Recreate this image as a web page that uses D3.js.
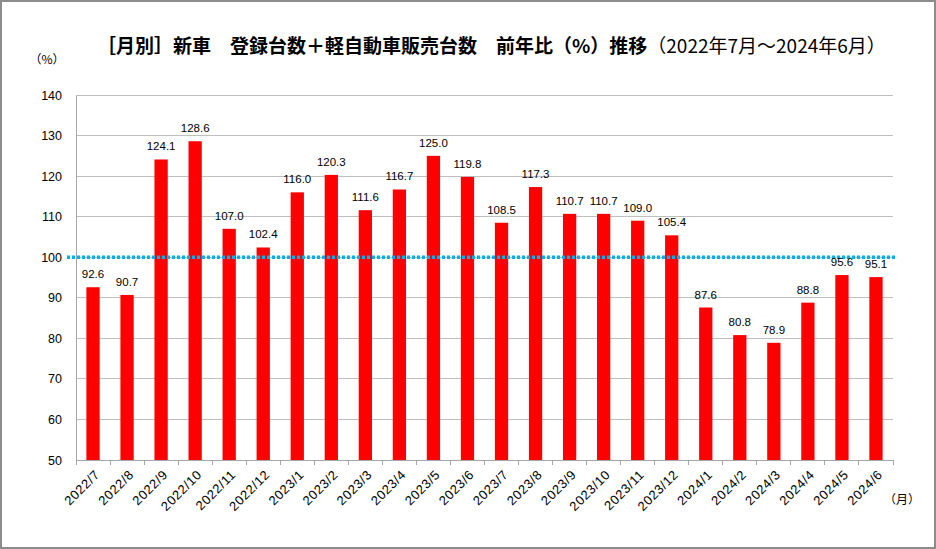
<!DOCTYPE html>
<html><head><meta charset="utf-8">
<script src="https://cdn.jsdelivr.net/npm/d3@7/dist/d3.min.js"></script>
<style>
html,body{margin:0;padding:0;background:#fff;}
svg{display:block;}
</style></head>
<body>
<svg id="c" width="936" height="549"></svg>
<script>
const categories = ["2022/7","2022/8","2022/9","2022/10","2022/11","2022/12","2023/1","2023/2","2023/3","2023/4","2023/5","2023/6","2023/7","2023/8","2023/9","2023/10","2023/11","2023/12","2024/1","2024/2","2024/3","2024/4","2024/5","2024/6"];
const values = [92.6,90.7,124.1,128.6,107.0,102.4,116.0,120.3,111.6,116.7,125.0,119.8,108.5,117.3,110.7,110.7,109.0,105.4,87.6,80.8,78.9,88.8,95.6,95.1];
const yTicks = [50,60,70,80,90,100,110,120,130,140];
const refValue = 100;
const title = "［月別］新車　登録台数＋軽自動車販売台数　前年比（%）推移";
const titleSub = "（2022年7月～2024年6月）";

const svg = d3.select("#c");
const W = 936, H = 549;
const m = {left:76, right:893, top:95, bottom:460};
const font = "'Liberation Sans', Arial, sans-serif";
const cjk = "'Noto Sans CJK JP', sans-serif";

svg.append("rect").attr("x",1).attr("y",1).attr("width",W-2).attr("height",H-2)
  .attr("fill","#fff").attr("stroke","#8c8c8c").attr("stroke-width",2);

const x = d3.scaleBand().domain(categories).range([m.left,m.right]).paddingInner(0.61).paddingOuter(0.305);
const xb = d3.scaleBand().domain(categories).range([m.left,m.right]);
const y = d3.scaleLinear().domain([50,140]).range([m.bottom,m.top]);

// gridlines
svg.append("g").selectAll("line").data(yTicks.filter(t=>t>50)).join("line")
  .attr("x1",m.left).attr("x2",m.right).attr("y1",d=>y(d)).attr("y2",d=>y(d))
  .attr("stroke","#bfbfbf").attr("stroke-width",1).attr("shape-rendering","crispEdges");

// y axis
const ya = svg.append("g").attr("transform",`translate(${m.left},0)`)
  .call(d3.axisLeft(y).tickValues(yTicks).tickSize(0).tickPadding(14));
ya.select(".domain").attr("stroke","#a6a6a6").attr("shape-rendering","crispEdges");
ya.selectAll("text").attr("font-family",font).attr("font-size",12.5).attr("fill","#000");

// bars
svg.append("g").selectAll("rect").data(values).join("rect")
  .attr("x",(d,i)=>x(categories[i])).attr("width",x.bandwidth())
  .attr("y",d=>y(d)).attr("height",d=>y(50)-y(d)).attr("fill","#ff0000");

// x axis
const xa = svg.append("g").attr("transform",`translate(0,${m.bottom})`)
  .call(d3.axisBottom(xb).tickSize(0).tickFormat(""));
xa.select(".domain").attr("stroke","#a6a6a6").attr("shape-rendering","crispEdges");
const bounds = categories.map((c)=>xb(c)).concat([m.right]);
svg.append("g").selectAll("line").data(bounds).join("line")
  .attr("x1",d=>d).attr("x2",d=>d).attr("y1",m.bottom).attr("y2",m.bottom+5)
  .attr("stroke","#a6a6a6").attr("shape-rendering","crispEdges");

svg.append("g").selectAll("text").data(categories).join("text")
  .attr("transform",d=>`translate(${xb(d)+xb.bandwidth()/2+5},${m.bottom+13}) rotate(-45)`)
  .attr("text-anchor","end").attr("dominant-baseline","middle")
  .attr("font-family",font).attr("font-size",13).attr("letter-spacing",0.6).attr("fill","#000").text(d=>d);

// reference line
svg.append("line").attr("x1",m.left-9).attr("x2",m.right+4).attr("y1",y(refValue)).attr("y2",y(refValue))
  .attr("stroke","#00b0f0").attr("stroke-width",3.5).attr("stroke-dasharray","3,2");

// value labels
svg.append("g").selectAll("text").data(values).join("text")
  .attr("x",(d,i)=>x(categories[i])+x.bandwidth()/2).attr("y",d=>y(d)-9)
  .attr("text-anchor","middle").attr("font-family",font).attr("font-size",11.5).attr("fill","#000")
  .text(d=>d.toFixed(1));

// title
const t = svg.append("text").attr("x",97).attr("y",53).attr("font-family",cjk).attr("font-size",19).attr("fill","#000");
t.append("tspan").attr("font-weight","bold").text(title);
t.append("tspan").attr("font-weight","normal").text(titleSub);

svg.append("text").attr("x",47).attr("y",64).attr("text-anchor","middle").attr("font-family",cjk).attr("font-size",12).text("（%）");
svg.append("text").attr("x",902).attr("y",504).attr("text-anchor","middle").attr("font-family",cjk).attr("font-size",12).text("（月）");
</script>
</body></html>
